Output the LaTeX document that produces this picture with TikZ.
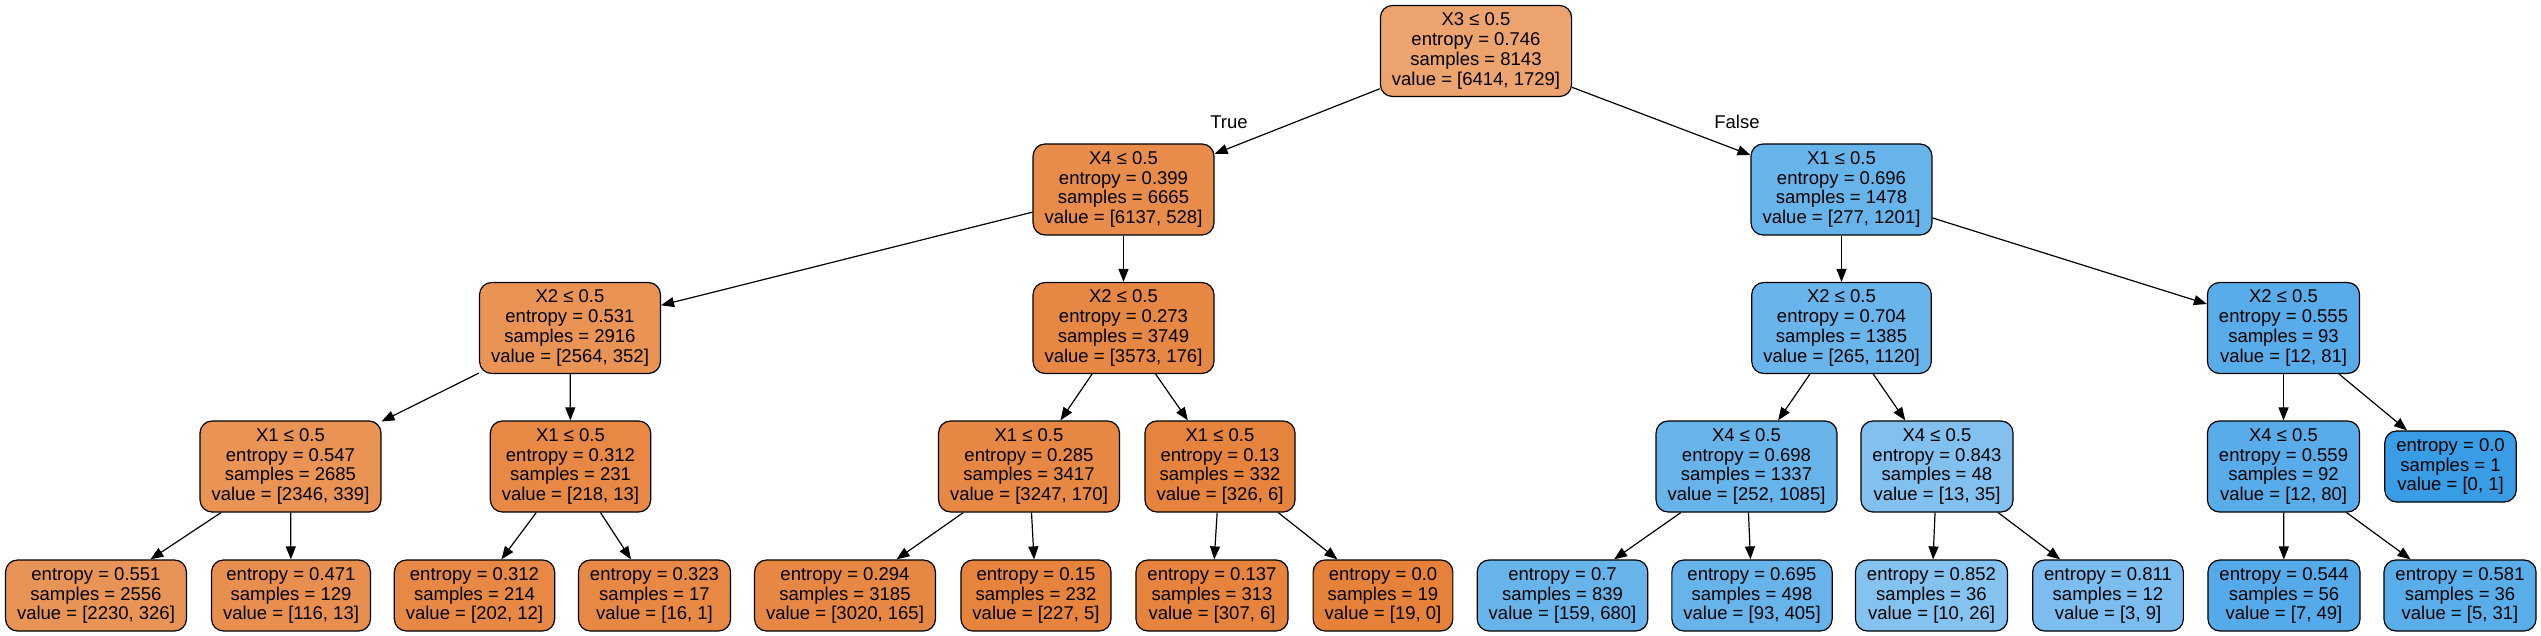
\documentclass[tikz,border=0pt]{standalone}
\usepackage{fontspec}
\setmainfont{Liberation Sans}
\usetikzlibrary{arrows.meta}
\definecolor{cO}{RGB}{229,129,57}
\definecolor{cB}{RGB}{57,157,229}
\begin{document}
\begin{tikzpicture}[x=1pt,y=-1pt,
  tn/.style={draw=black, line width=1.2pt, rounded corners=12pt, align=center,
    font=\fontsize{18.5}{19.7}\selectfont, inner xsep=11.5pt, inner ysep=0pt},
  bfour/.style={tn, minimum height=91pt},
  bthree/.style={tn, minimum height=71pt},
  edge/.style={draw=black, line width=1.2pt, -{Triangle[length=13pt,width=10pt]}},
  lab/.style={font=\fontsize{18.5}{19.7}\selectfont, inner sep=0pt}]
\useasboundingbox (0,0) rectangle (2541,636);
\fill[white] (0,0) rectangle (2541,636);

% level 0
\node[bfour, fill=cO!73] (r) at (1476,51) {X3 ≤ 0.5\\entropy = 0.746\\samples = 8143\\value = [6414, 1729]};
% level 1
\node[bfour, fill=cO!91] (n1) at (1123.5,189.5) {X4 ≤ 0.5\\entropy = 0.399\\samples = 6665\\value = [6137, 528]};
\node[bfour, fill=cB!77] (n2) at (1841.5,189.5) {X1 ≤ 0.5\\entropy = 0.696\\samples = 1478\\value = [277, 1201]};
% level 2
\node[bfour, fill=cO!86] (a) at (570,328) {X2 ≤ 0.5\\entropy = 0.531\\samples = 2916\\value = [2564, 352]};
\node[bfour, fill=cO!95] (b) at (1123.5,328) {X2 ≤ 0.5\\entropy = 0.273\\samples = 3749\\value = [3573, 176]};
\node[bfour, fill=cB!76] (c) at (1841.5,328) {X2 ≤ 0.5\\entropy = 0.704\\samples = 1385\\value = [265, 1120]};
\node[bfour, fill=cB!85] (d) at (2283.5,328) {X2 ≤ 0.5\\entropy = 0.555\\samples = 93\\value = [12, 81]};
% level 3
\node[bfour, fill=cO!86] (a1) at (290.5,466.5) {X1 ≤ 0.5\\entropy = 0.547\\samples = 2685\\value = [2346, 339]};
\node[bfour, fill=cO!94] (a2) at (570.5,466.5) {X1 ≤ 0.5\\entropy = 0.312\\samples = 231\\value = [218, 13]};
\node[bfour, fill=cO!95] (b1) at (1029,466.5) {X1 ≤ 0.5\\entropy = 0.285\\samples = 3417\\value = [3247, 170]};
\node[bfour, fill=cO!98] (b2) at (1220,466.5) {X1 ≤ 0.5\\entropy = 0.13\\samples = 332\\value = [326, 6]};
\node[bfour, fill=cB!77] (c1) at (1746.5,466.5) {X4 ≤ 0.5\\entropy = 0.698\\samples = 1337\\value = [252, 1085]};
\node[bfour, fill=cB!63] (c2) at (1937,466.5) {X4 ≤ 0.5\\entropy = 0.843\\samples = 48\\value = [13, 35]};
\node[bfour, fill=cB!85] (d1) at (2283.5,466.5) {X4 ≤ 0.5\\entropy = 0.559\\samples = 92\\value = [12, 80]};
\node[bthree, fill=cB!100] (d2) at (2450.5,466.5) {entropy = 0.0\\samples = 1\\value = [0, 1]};
% level 4
\node[bthree, fill=cO!85] (l1) at (96,595.5) {entropy = 0.551\\samples = 2556\\value = [2230, 326]};
\node[bthree, fill=cO!89] (l2) at (291,595.5) {entropy = 0.471\\samples = 129\\value = [116, 13]};
\node[bthree, fill=cO!94] (l3) at (474.5,595.5) {entropy = 0.312\\samples = 214\\value = [202, 12]};
\node[bthree, fill=cO!94] (l4) at (654.5,595.5) {entropy = 0.323\\samples = 17\\value = [16, 1]};
\node[bthree, fill=cO!95] (l5) at (845,595.5) {entropy = 0.294\\samples = 3185\\value = [3020, 165]};
\node[bthree, fill=cO!98] (l6) at (1036,595.5) {entropy = 0.15\\samples = 232\\value = [227, 5]};
\node[bthree, fill=cO!98] (l7) at (1212,595.5) {entropy = 0.137\\samples = 313\\value = [307, 6]};
\node[bthree, fill=cO!100] (l8) at (1383,595.5) {entropy = 0.0\\samples = 19\\value = [19, 0]};
\node[bthree, fill=cB!77] (l9) at (1562.5,595.5) {entropy = 0.7\\samples = 839\\value = [159, 680]};
\node[bthree, fill=cB!77] (l10) at (1752,595.5) {entropy = 0.695\\samples = 498\\value = [93, 405]};
\node[bthree, fill=cB!62] (l11) at (1931.5,595.5) {entropy = 0.852\\samples = 36\\value = [10, 26]};
\node[bthree, fill=cB!67] (l12) at (2108,595.5) {entropy = 0.811\\samples = 12\\value = [3, 9]};
\node[bthree, fill=cB!86] (l13) at (2284,595.5) {entropy = 0.544\\samples = 56\\value = [7, 49]};
\node[bthree, fill=cB!84] (l14) at (2460,595.5) {entropy = 0.581\\samples = 36\\value = [5, 31]};

% edge labels
\node[lab] (lt) at (1229,122) {True};
\node[lab] (lf) at (1737,122) {False};

% edges
\draw[edge] (r) -- (n1);
\draw[edge] (r) -- (n2);
\draw[edge] (n1) -- (a);
\draw[edge] (n1) -- (b);
\draw[edge] (n2) -- (c);
\draw[edge] (n2) -- (d);
\draw[edge] (a) -- (a1);
\draw[edge] (a) -- (a2);
\draw[edge] (b) -- (b1);
\draw[edge] (b) -- (b2);
\draw[edge] (c) -- (c1);
\draw[edge] (c) -- (c2);
\draw[edge] (d) -- (d1);
\draw[edge] (d) -- (d2);
\draw[edge] (a1) -- (l1);
\draw[edge] (a1) -- (l2);
\draw[edge] (a2) -- (l3);
\draw[edge] (a2) -- (l4);
\draw[edge] (b1) -- (l5);
\draw[edge] (b1) -- (l6);
\draw[edge] (b2) -- (l7);
\draw[edge] (b2) -- (l8);
\draw[edge] (c1) -- (l9);
\draw[edge] (c1) -- (l10);
\draw[edge] (c2) -- (l11);
\draw[edge] (c2) -- (l12);
\draw[edge] (d1) -- (l13);
\draw[edge] (d1) -- (l14);
\end{tikzpicture}
\end{document}
